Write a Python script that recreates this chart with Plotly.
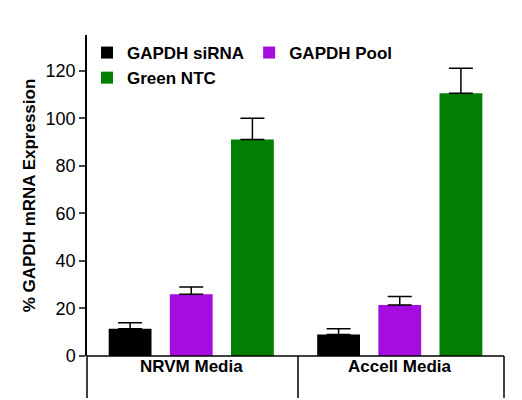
import plotly.graph_objects as go

categories = ["NRVM Media", "Accell Media"]
series_names = ["GAPDH siRNA", "GAPDH Pool", "Green NTC"]
series_colors = ["#000000", "#a50ddf", "#027f02"]
values = [
    [11.5, 9.0],
    [26.0, 21.5],
    [91.0, 110.5],
]
errors = [
    [2.5, 2.5],
    [3.0, 3.5],
    [9.0, 10.5],
]
y_ticks = [0, 20, 40, 60, 80, 100, 120]

fig = go.Figure()
for name, col, vals, errs in zip(series_names, series_colors, values, errors):
    fig.add_trace(go.Bar(
        x=categories, y=vals, name=name,
        marker=dict(color=col, line=dict(width=0)),
        error_y=dict(type="data", array=errs, arrayminus=[0] * len(errs),
                     symmetric=False, color="black", thickness=1.5, width=12),
    ))

fig.update_layout(
    width=522, height=400,
    barmode="group", bargap=0.12, bargroupgap=0.3,
    plot_bgcolor="white", paper_bgcolor="white",
    margin=dict(l=79, r=26, t=27, b=52, autoexpand=False),
    font=dict(family="Liberation Sans", color="black"),
    showlegend=True,
    legend=dict(orientation="h", x=0.0, y=1.0, xanchor="left", yanchor="top",
                font=dict(size=17, family="Liberation Sans", weight="bold"),
                itemwidth=30, itemsizing="constant", traceorder="normal",
                bgcolor="rgba(0,0,0,0)"),
    xaxis=dict(showticklabels=False, showline=False, ticks=""),
    yaxis=dict(range=[0, 135], tickvals=y_ticks, ticks="outside", ticklen=6,
               tickwidth=1.5, showline=True, linewidth=1.5, linecolor="black",
               showgrid=False, zeroline=False, tickfont=dict(size=18),
               title=dict(text="% GAPDH mRNA Expression",
                          font=dict(size=17, weight="bold"), standoff=6)),
)

# category box under the axis
shapes = [dict(type="line", xref="paper", yref="paper", x0=0, x1=1, y0=0, y1=0,
               line=dict(color="black", width=1.5))]
for xp in [0, 0.506, 1]:
    shapes.append(dict(type="line", xref="paper", yref="paper", x0=xp, x1=xp,
                       y0=0, y1=-0.131, line=dict(color="black", width=1.5)))
fig.update_layout(shapes=shapes)

for c in categories:
    fig.add_annotation(x=c, xref="x", y=-0.07, yref="paper", text=c,
                       showarrow=False, font=dict(size=17, weight="bold"))

fig.write_html("out.html")
